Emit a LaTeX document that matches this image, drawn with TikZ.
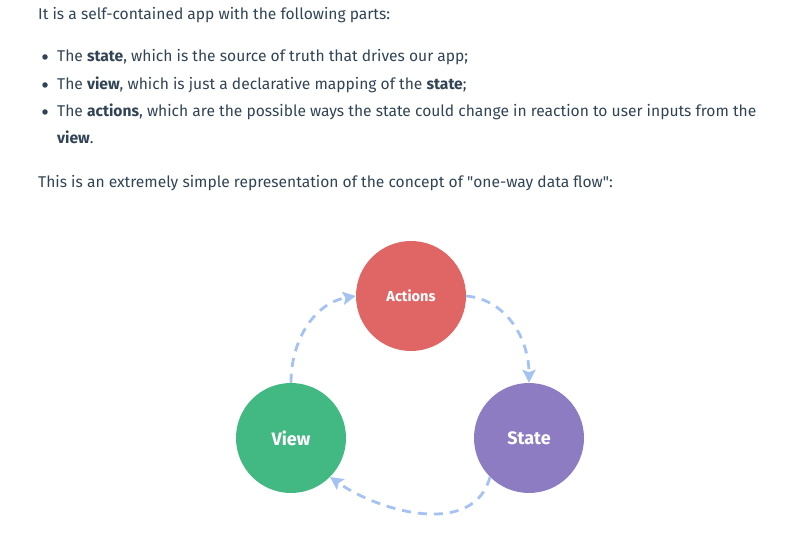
\documentclass[tikz,border=0pt]{standalone}
\usepackage{fontspec}
\setmainfont{Fira Sans}
\usepackage{tikz}
\usetikzlibrary{arrows.meta, positioning}
\usepackage{xcolor}

\definecolor{textc}{HTML}{304455}
\definecolor{actc}{HTML}{E06666}
\definecolor{viewc}{HTML}{42B983}
\definecolor{statec}{HTML}{8E7CC3}
\definecolor{flowc}{HTML}{A4C2F4}

\begin{document}
\begin{tikzpicture}[
  x=1pt, y=-1pt,
  txt/.style   = {anchor=base west, inner sep=0pt, text=textc, font=\fontsize{15.6}{18}\selectfont},
  dot/.style   = {circle, fill=textc, inner sep=0pt, minimum size=5.5pt},
  blob/.style  = {circle, minimum size=110pt, inner sep=0pt, text=white},
  flow/.style  = {-{Stealth[length=13pt, width=13pt, inset=2.5pt]}, draw=flowc, line width=2.8pt,
                  dash pattern=on 9pt off 7pt},
]
\useasboundingbox (0,0) rectangle (804,537);

% ── Intro text ───────────────────────────────────────────────────────────────
\node[txt] (intro) at (38,20) {It is a self-contained app with the following parts:};

\node[dot] (b1) at (45,57)  {};
\node[txt] (l1) at (57,62)  {The \textbf{state}, which is the source of truth that drives our app;};
\node[dot] (b2) at (45,85)  {};
\node[txt] (l2) at (57,90)  {The \textbf{view}, which is just a declarative mapping of the \textbf{state};};
\node[dot] (b3) at (45,112) {};
\node[txt] (l3) at (57,117) {The \textbf{actions}, which are the possible ways the state could change in reaction to user inputs from the};
\node[txt] (l3b) at (57,144) {\textbf{view}.};

\node[txt] (outro) at (38,188) {This is an extremely simple representation of the concept of \textquotedbl one-way data flow\textquotedbl:};

% ── Cycle ────────────────────────────────────────────────────────────────────
\node[blob, fill=actc,   font=\fontsize{14.5}{16}\selectfont\bfseries] (actions) at (411,296) {Actions};
\node[blob, fill=viewc,  font=\fontsize{18}{20}\selectfont\bfseries] (view)    at (291,438) {View};
\node[blob, fill=statec, font=\fontsize{18}{20}\selectfont\bfseries] (state)   at (529,438) {State};

\draw[flow] (view.north)   to[out=90,  in=190] (actions.west);
\draw[flow] (actions.east) to[out=-5,  in=90]  (state.north);
\draw[flow] (state.225)    to[out=-105, in=-35] (view.-45);

\end{tikzpicture}
\end{document}
